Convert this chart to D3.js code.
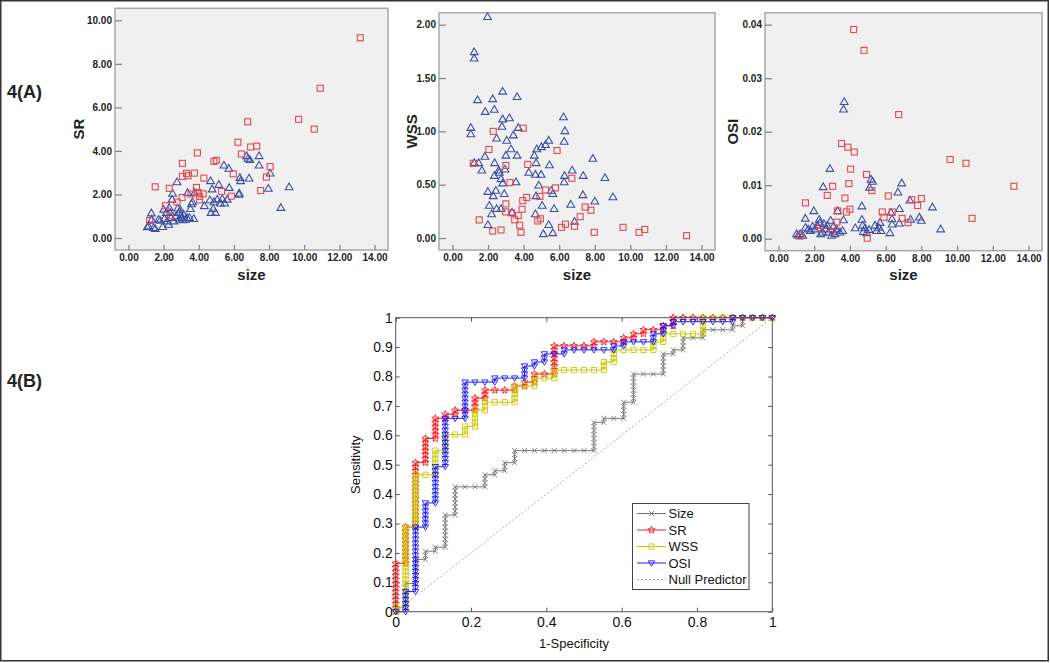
<!DOCTYPE html>
<html><head><meta charset="utf-8">
<script src="https://cdn.jsdelivr.net/npm/d3@7"></script>
<style>body{margin:0;background:#fff}svg{display:block}text{font-family:Arial,"Liberation Sans",sans-serif}</style>
</head><body><svg id="c" width="1050" height="663"></svg>
<script>
// ---------------- DATA ----------------
const sizeTicks = [0, 2, 4, 6, 8, 10, 12, 14];
const srTicks = [0, 2, 4, 6, 8, 10];
const wssTicks = [0, 0.5, 1, 1.5, 2];
const osiTicks = [0, 0.01, 0.02, 0.03, 0.04];
const rocXTicks = [0, 0.2, 0.4, 0.6, 0.8, 1];
const rocYTicks = [0, 0.1, 0.2, 0.3, 0.4, 0.5, 0.6, 0.7, 0.8, 0.9, 1];

// panel A1: size vs SR
const srRed = [[1.2,0.8],[1.52,2.35],[2.1,1.48],[2.32,2.28],[2.38,1.02],[2.76,1.65],[3.07,3.43],[3.07,2.83],[3.05,1.86],[3.3,2.97],[3.39,2.86],[3.56,2.02],[3.75,2.98],[3.87,2.32],[3.92,3.91],[3.96,2.09],[4.04,1.91],[4.04,1.75],[4.25,2.03],[4.29,2.75],[4.86,3.52],[5.0,3.57],[5.3,2.14],[5.85,1.92],[5.96,2.95],[6.23,4.4],[6.42,3.86],[6.78,5.34],[6.95,4.18],[7.3,4.22],[7.52,2.18],[7.85,2.8],[8.06,3.28],[9.68,5.45],[10.57,5.0],[10.91,6.88],[13.19,9.2]];
const srBlue = [[1.07,0.48],[1.14,0.52],[1.3,1.12],[1.33,0.83],[1.43,0.45],[1.52,0.4],[1.71,0.83],[1.8,0.78],[1.94,0.49],[2.0,1.29],[2.04,0.86],[2.15,1.14],[2.19,0.75],[2.29,0.6],[2.32,1.37],[2.38,1.14],[2.42,0.91],[2.48,1.75],[2.51,2.02],[2.57,0.75],[2.7,0.98],[2.76,2.55],[2.8,1.34],[2.86,1.14],[2.91,0.83],[2.95,1.26],[2.99,1.02],[3.05,0.91],[3.09,0.8],[3.14,1.06],[3.24,0.83],[3.33,0.91],[3.37,2.06],[3.47,0.91],[3.52,1.32],[3.58,1.54],[3.64,1.63],[3.71,0.86],[3.77,2.06],[4.32,1.45],[4.63,1.72],[4.67,2.6],[4.76,2.22],[4.7,1.14],[4.82,1.32],[4.86,1.63],[4.95,1.14],[5.05,1.75],[5.14,2.43],[5.24,1.57],[5.33,1.78],[5.43,3.32],[5.47,1.57],[5.62,1.75],[5.71,3.17],[5.73,2.29],[6.29,1.98],[6.34,2.75],[6.38,2.6],[6.3,2.03],[6.72,3.75],[6.8,3.63],[6.86,2.72],[6.91,3.57],[7.43,3.75],[7.43,3.32],[7.96,2.25],[8.06,2.95],[8.67,1.37],[9.14,2.32]];

// panel A2: size vs WSS
const wssRed = [[1.17,0.70],[1.5,0.17],[2.05,0.83],[2.29,1.0],[2.26,0.065],[2.73,0.075],[3.0,0.68],[3.0,0.32],[2.99,0.245],[3.23,0.52],[3.33,0.235],[3.5,0.17],[3.7,0.21],[3.78,0.12],[3.85,0.053],[3.91,0.27],[3.95,0.35],[3.98,1.03],[4.17,0.38],[4.23,0.69],[4.79,0.16],[4.91,0.39],[4.94,0.18],[5.23,0.45],[5.79,0.47],[5.88,0.82],[6.13,0.1],[6.35,0.13],[6.71,0.56],[6.86,0.11],[7.18,0.2],[7.46,0.29],[7.78,0.26],[7.97,0.053],[9.59,0.1],[10.49,0.053],[10.81,0.08],[13.16,0.022]];
const wssBlue = [[1.97,2.07],[1.22,1.74],[1.22,1.68],[1.41,1.29],[1.03,1.03],[1.03,0.97],[1.22,0.70],[1.47,0.70],[1.65,0.63],[1.82,0.76],[1.84,1.18],[2.26,1.30],[2.35,1.20],[2.82,1.37],[3.63,1.32],[2.78,1.04],[2.82,1.11],[3.2,1.12],[2.48,0.93],[3.05,0.91],[3.29,0.83],[3.42,0.96],[3.7,1.03],[3.63,0.77],[3.0,0.77],[2.37,0.70],[2.35,0.58],[2.6,0.63],[2.73,0.55],[2.82,0.51],[2.95,0.64],[2.63,0.61],[3.57,0.52],[1.99,0.43],[2.44,0.44],[2.29,0.39],[2.91,0.41],[2.07,0.30],[2.48,0.27],[2.73,0.27],[2.2,0.22],[1.99,0.12],[3.35,0.235],[4.29,0.61],[4.6,0.77],[4.74,0.83],[4.7,0.70],[5.0,0.85],[5.23,0.87],[5.41,0.91],[4.98,0.59],[4.66,0.59],[4.85,0.49],[4.7,0.39],[5.45,0.68],[5.55,0.44],[5.64,0.41],[5.04,0.30],[4.66,0.22],[5.71,0.27],[5.41,0.12],[5.11,0.034],[5.64,0.043],[6.24,1.13],[6.32,1.0],[6.28,0.90],[6.3,0.58],[6.28,0.52],[6.73,0.63],[6.65,0.31],[6.86,0.15],[7.35,0.58],[7.33,0.40],[7.89,0.74],[8.0,0.34],[8.57,0.56],[9.02,0.38]];

// panel A3: size vs OSI
const osiRed = [[1.2,0.0005],[1.51,0.0067],[2.32,0.002],[2.73,0.0081],[3.03,0.0014],[3.03,0.0098],[3.31,0.0052],[3.27,0.0031],[3.53,0.0178],[3.72,0.0076],[3.81,0.005],[3.89,0.0171],[3.94,0.0103],[4.0,0.0055],[4.04,0.013],[4.21,0.0391],[4.24,0.0162],[4.79,0.0352],[4.93,0.012],[4.97,0.0001],[5.23,0.009],[5.81,0.005],[5.91,0.004],[6.15,0.008],[6.37,0.005],[6.73,0.0232],[6.92,0.0038],[7.25,0.003],[7.46,0.0073],[7.79,0.0062],[8.0,0.0075],[9.61,0.0148],[10.5,0.0141],[10.84,0.0038],[13.18,0.0098]];
const osiBlue = [[1.01,0.0008],[1.1,0.0005],[1.21,0.0008],[1.35,0.0005],[1.5,0.0037],[1.51,0.002],[1.66,0.0017],[1.79,0.0014],[1.98,0.0051],[1.91,0.0022],[2.04,0.0017],[2.17,0.0024],[2.28,0.0035],[2.32,0.0029],[2.37,0.0008],[2.47,0.0011],[2.5,0.0096],[2.54,0.0027],[2.65,0.0017],[2.73,0.0024],[2.79,0.0011],[2.88,0.013],[2.92,0.0033],[2.97,0.0005],[3.07,0.0022],[3.16,0.0008],[3.25,0.0017],[3.31,0.0051],[3.44,0.0011],[3.59,0.0014],[3.64,0.0034],[3.68,0.0255],[3.64,0.0241],[4.3,0.0019],[4.67,0.006],[4.67,0.0035],[4.71,0.0024],[4.75,0.0012],[4.84,0.0019],[4.93,0.001],[5.07,0.0016],[5.1,0.0095],[5.18,0.011],[5.27,0.0106],[5.4,0.0024],[5.5,0.0014],[5.61,0.002],[5.68,0.0029],[5.74,0.0014],[6.24,0.001],[6.3,0.0048],[6.36,0.0036],[6.36,0.0026],[6.69,0.0086],[6.77,0.0028],[6.77,0.0055],[6.9,0.0103],[7.36,0.0071],[7.4,0.0035],[7.89,0.0039],[8.0,0.0033],[8.62,0.0058],[9.08,0.0017]];

// panel B: ROC curves. Counts of negatives / positives, and for each
// false-positive count k = 0..38 the true-positive count reached at that k.
const NEG = 38, POS = 73;
const rocNames = ["Size", "SR", "WSS", "OSI"];
const rocSize = [1,7,13,15,16,24,31,31,31,34,35,37,40,40,40,40,40,40,40,40,47,48,48,52,59,59,59,64,65,68,68,70,70,70,71,73,73,73,73];
const rocSR   = [12,21,37,43,48,49,50,50,53,55,55,55,56,57,59,59,66,66,66,66,67,67,67,68,69,70,70,71,73,73,73,73,73,73,73,73,73,73,73];
const rocWSS  = [1,21,34,34,40,44,44,46,50,52,52,52,56,56,58,58,60,60,60,60,60,62,65,65,65,65,67,69,69,69,69,73,73,73,73,73,73,73,73];
const rocOSI  = [0,5,21,27,36,48,48,57,57,57,58,58,58,61,62,64,64,65,65,65,65,65,66,67,67,67,69,71,72,72,72,72,72,72,73,73,73,73,73];

// ---------------- DRAW ----------------
const svg = d3.select("#c");
svg.append("rect").attr("x", 0.75).attr("y", 0.75).attr("width", 1047.5).attr("height", 660)
  .attr("fill", "#fff").attr("stroke", "#333").attr("stroke-width", 1.5);

const RED = "#e4474d", BLUE = "#3d4fa6";
const fmt2 = d3.format(".2f");

function scatter(p) {
  const g = svg.append("g");
  const x = d3.scaleLinear().domain([0, 14]).range([p.x0 + 13.5, p.x1 - 13.5]);
  const y = d3.scaleLinear().domain([0, p.yMax]).range([p.y1 - 12, p.y0 + 12]);
  g.append("rect").attr("x", p.x0).attr("y", p.y0).attr("width", p.x1 - p.x0).attr("height", p.y1 - p.y0)
    .attr("fill", "#f0f0f0").attr("stroke", "#a9a9a9").attr("stroke-width", 1.5);
  const ya = g.append("g").attr("transform", `translate(${p.x0},0)`)
    .call(d3.axisLeft(y).tickValues(p.yTicks).tickSize(-7).tickPadding(3).tickFormat(fmt2));
  const xa = g.append("g").attr("transform", `translate(0,${p.y1})`)
    .call(d3.axisBottom(x).tickValues(sizeTicks).tickSize(-5).tickPadding(4).tickFormat(fmt2));
  [ya, xa].forEach(a => {
    a.select(".domain").remove();
    a.selectAll(".tick line").attr("stroke", "#8a8a8a").attr("stroke-width", 1.3);
    a.selectAll("text").attr("font-size", 10).attr("font-weight", "bold").attr("fill", "#222");
  });
  g.append("g").selectAll("path").data(p.blue).join("path")
    .attr("d", d3.symbol(d3.symbolTriangle, 26)())
    .attr("transform", d => `translate(${x(d[0])},${y(d[1])})`)
    .attr("fill", "none").attr("stroke", BLUE).attr("stroke-width", 1.1);
  g.append("g").selectAll("rect").data(p.red).join("rect")
    .attr("x", d => x(d[0]) - 3).attr("y", d => y(d[1]) - 3).attr("width", 6).attr("height", 6)
    .attr("fill", "none").attr("stroke", RED).attr("stroke-width", 1.1);
  g.append("text").attr("x", (p.x0 + p.x1) / 2).attr("y", 280).attr("text-anchor", "middle")
    .attr("font-size", 15).attr("font-weight", "bold").attr("fill", "#222").text("size");
  g.append("text").attr("transform", `translate(${p.labelX},${(p.y0 + p.y1) / 2}) rotate(-90)`)
    .attr("text-anchor", "middle").attr("dy", "0.35em")
    .attr("font-size", 15).attr("font-weight", "bold").attr("fill", "#222").text(p.label);
}

scatter({x0: 115, x1: 388, y0: 8.3, y1: 250, yMax: 10, yTicks: srTicks, red: srRed, blue: srBlue, label: "SR", labelX: 79});
scatter({x0: 439, x1: 715, y0: 12.7, y1: 250, yMax: 2, yTicks: wssTicks, red: wssRed, blue: wssBlue, label: "WSS", labelX: 412});
scatter({x0: 765, x1: 1042, y0: 12.7, y1: 250.7, yMax: 0.04, yTicks: osiTicks, red: osiRed, blue: osiBlue, label: "OSI", labelX: 733});

svg.append("text").attr("x", 7).attr("y", 98).attr("font-size", 18).attr("font-weight", "bold").attr("fill", "#222").text("4(A)");
svg.append("text").attr("x", 7).attr("y", 387).attr("font-size", 18).attr("font-weight", "bold").attr("fill", "#222").text("4(B)");

// ---- ROC ----
const rx = d3.scaleLinear().domain([0, 1]).range([395.7, 772.3]);
const ry = d3.scaleLinear().domain([0, 1]).range([611.7, 317.7]);
const rg = svg.append("g");
rg.append("rect").attr("x", rx(0)).attr("y", ry(1)).attr("width", rx(1) - rx(0)).attr("height", ry(0) - ry(1))
  .attr("fill", "#fff");

const tfmt = d => String(+d.toFixed(1));
const axL = rg.append("g").attr("transform", `translate(${rx(0)},0)`)
  .call(d3.axisLeft(ry).tickValues(rocYTicks).tickSize(-4).tickPadding(3).tickFormat(tfmt));
const axR = rg.append("g").attr("transform", `translate(${rx(1)},0)`)
  .call(d3.axisRight(ry).tickValues(rocYTicks).tickSize(-4).tickFormat(""));
const axB = rg.append("g").attr("transform", `translate(0,${ry(0)})`)
  .call(d3.axisBottom(rx).tickValues(rocXTicks).tickSize(-4).tickPadding(5).tickFormat(tfmt));
const axT = rg.append("g").attr("transform", `translate(0,${ry(1)})`)
  .call(d3.axisTop(rx).tickValues(rocXTicks).tickSize(-4).tickFormat(""));
[axL, axR, axB, axT].forEach(a => {
  a.select(".domain").remove();
  a.selectAll(".tick line").attr("stroke", "#555");
  a.selectAll("text").attr("font-size", 14).attr("fill", "#111");
});

const nullLine = [[0, 0], [1, 1]];
rg.append("path").attr("d", d3.line().x(d => rx(d[0])).y(d => ry(d[1]))(nullLine))
  .attr("fill", "none").attr("stroke", "#aaa").attr("stroke-width", 1).attr("stroke-dasharray", "2,2");

function rocPoints(tp) {
  const pts = [[0, 0]];
  let cur = 0;
  tp.forEach((top, k) => {
    if (k > 0) pts.push([k / NEG, cur / POS]);
    for (let t = cur + 1; t <= top; t++) pts.push([k / NEG, t / POS]);
    cur = top;
  });
  return pts;
}

function starPath(R, r) {
  let s = "";
  for (let i = 0; i < 10; i++) {
    const a = -Math.PI / 2 + i * Math.PI / 5, rad = i % 2 ? r : R;
    s += (i ? "L" : "M") + (rad * Math.cos(a)).toFixed(2) + "," + (rad * Math.sin(a)).toFixed(2);
  }
  return s + "Z";
}
const markers = {
  x: "M-2.5,-2.5L2.5,2.5M-2.5,2.5L2.5,-2.5",
  star: starPath(3.8, 1.6),
  square: "M-2.6,-2.6H2.6V2.6H-2.6Z",
  tri: "M-3.2,-2.2H3.2L0,3.2Z"
};
const series = [
  {name: rocNames[0], tp: rocSize, color: "#777", marker: markers.x},
  {name: rocNames[1], tp: rocSR, color: "#ff1a1a", marker: markers.star},
  {name: rocNames[2], tp: rocWSS, color: "#c9c900", marker: markers.square},
  {name: rocNames[3], tp: rocOSI, color: "#1a1aff", marker: markers.tri}
];
const line = d3.line().x(d => rx(d[0])).y(d => ry(d[1]));
series.forEach(s => {
  const pts = rocPoints(s.tp);
  const sg = rg.append("g");
  sg.append("path").attr("d", line(pts)).attr("fill", "none").attr("stroke", s.color).attr("stroke-width", 1);
  sg.selectAll("path.m").data(pts).join("path").attr("class", "m")
    .attr("d", s.marker).attr("transform", d => `translate(${rx(d[0])},${ry(d[1])})`)
    .attr("fill", "none").attr("stroke", s.color).attr("stroke-width", 0.9);
});

rg.append("rect").attr("x", rx(0)).attr("y", ry(1)).attr("width", rx(1) - rx(0)).attr("height", ry(0) - ry(1))
  .attr("fill", "none").attr("stroke", "#555").attr("stroke-width", 1);

rg.append("text").attr("x", 574).attr("y", 648).attr("text-anchor", "middle")
  .attr("font-size", 13).attr("fill", "#111").text("1-Specificity");
rg.append("text").attr("transform", `translate(355,${(ry(0) + ry(1)) / 2}) rotate(-90)`)
  .attr("text-anchor", "middle").attr("dy", "0.35em").attr("font-size", 13).attr("fill", "#111").text("Sensitivity");

const lg = rg.append("g");
lg.append("rect").attr("x", 632.5).attr("y", 503.5).attr("width", 116.5).attr("height", 86)
  .attr("fill", "#fff").attr("stroke", "#444").attr("stroke-width", 1);
const legendItems = series.concat([{name: "Null Predictor", color: "#aaa", marker: null, dash: "2,2"}]);
legendItems.forEach((s, i) => {
  const yy = 513.5 + i * 16.5;
  lg.append("line").attr("x1", 637).attr("x2", 666).attr("y1", yy).attr("y2", yy)
    .attr("stroke", s.color).attr("stroke-width", 1).attr("stroke-dasharray", s.dash || null);
  if (s.marker) lg.append("path").attr("d", s.marker).attr("transform", `translate(651.5,${yy})`)
    .attr("fill", "none").attr("stroke", s.color).attr("stroke-width", 0.9);
  lg.append("text").attr("x", 668.5).attr("y", yy).attr("dy", "0.36em").attr("font-size", 13)
    .attr("fill", "#111").text(s.name);
});
</script></body></html>
